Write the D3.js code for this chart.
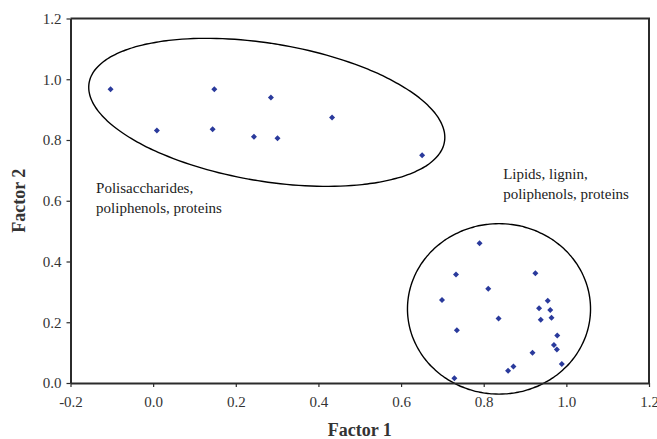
<!DOCTYPE html>
<html>
<head>
<meta charset="utf-8">
<script src="https://cdn.jsdelivr.net/npm/d3@7"></script>
<style>
  html, body { margin: 0; padding: 0; background: #fff; }
  svg { display: block; }
  svg text { font-family: "Liberation Serif", "Times New Roman", serif !important; }
</style>
</head>
<body>
<svg id="chart" width="657" height="439"></svg>
<script>
// Factor loadings: Factor 1 (x) and Factor 2 (y)
const factor1 = [
  -0.103, 0.148, 0.285, 0.433, 0.009, 0.144, 0.244, 0.301, 0.651,
  0.790, 0.733, 0.925, 0.811, 0.699, 0.955, 0.934, 0.961, 0.964, 0.938,
  0.836, 0.735, 0.978, 0.970, 0.977, 0.918, 0.989, 0.872, 0.859, 0.729
];
const factor2 = [
  0.967, 0.967, 0.940, 0.874, 0.831, 0.835, 0.811, 0.806, 0.750,
  0.460, 0.357, 0.361, 0.310, 0.273, 0.271, 0.246, 0.240, 0.215, 0.208,
  0.212, 0.174, 0.156, 0.125, 0.110, 0.100, 0.0625, 0.054, 0.040, 0.016
];

// Axis ticks
const xTicks = [-0.2, 0, 0.2, 0.4, 0.6, 0.8, 1.0, 1.2];
const yTicks = [0, 0.2, 0.4, 0.6, 0.8, 1.0, 1.2];

// Group outlines (data units): centre plus two conjugate semi-axis vectors
const groupCentres = [[0.275, 0.891], [0.837, 0.244]];
const groupAxisU = [[0.430, -0.0967], [0.2215, 0]];
const groupAxisV = [[-0.0272, -0.2237], [0, 0.2806]];
const groupLabelLines = [["Polisaccharides,", "poliphenols, proteins"], ["Lipids, lignin,", "poliphenols, proteins"]];
const groupLabelAnchor = [[-0.138, 0.625], [0.847, 0.670]];

const svg = d3.select("#chart");
const W = 657, H = 439;
const m = { left: 70.5, right: 8, top: 18.5, bottom: 56 };

const x = d3.scaleLinear().domain([-0.2, 1.2]).range([m.left, W - m.right]);
const y = d3.scaleLinear().domain([0, 1.2]).range([H - m.bottom, m.top]);

const axisColor = "#2b2b2b";
const serif = "'Liberation Serif', 'Times New Roman', serif";

// Frame: top and right edges
svg.append("path")
  .attr("d", `M${x(-0.2)},${y(1.2)}H${x(1.2)}V${y(0)}`)
  .attr("fill", "none").attr("stroke", axisColor).attr("stroke-width", 2);

// Group outlines
const t = d3.range(0, 360, 2).map(d => d * Math.PI / 180);
groupCentres.forEach((c, i) => {
  const u = groupAxisU[i], v = groupAxisV[i];
  const pts = t.map(a => [
    x(c[0] + u[0] * Math.cos(a) + v[0] * Math.sin(a)),
    y(c[1] + u[1] * Math.cos(a) + v[1] * Math.sin(a))
  ]);
  svg.append("path")
    .attr("d", d3.line().curve(d3.curveCardinalClosed)(pts))
    .attr("fill", "none").attr("stroke", "#000").attr("stroke-width", 1.4);
});

// Group labels
groupLabelLines.forEach((lines, i) => {
  const txt = svg.append("text")
    .attr("x", x(groupLabelAnchor[i][0]))
    .attr("y", y(groupLabelAnchor[i][1]))
    .style("font-family", serif)
    .attr("font-size", 15).attr("fill", "#222");
  lines.forEach((l, j) => {
    txt.append("tspan").attr("x", x(groupLabelAnchor[i][0])).attr("dy", j === 0 ? 0 : 20).text(l);
  });
});

// Axes
const fmt = d => d3.format(".1f")(d).replace("\u2212", "-");
const xAxis = d3.axisBottom(x).tickValues(xTicks).tickFormat(fmt).tickSize(4).tickSizeOuter(0).tickPadding(9);
const yAxis = d3.axisLeft(y).tickValues(yTicks).tickFormat(fmt).tickSize(4).tickSizeOuter(0).tickPadding(5);

const gx = svg.append("g").attr("transform", `translate(0,${y(0)})`).call(xAxis);
const gy = svg.append("g").attr("transform", `translate(${x(-0.2)},0)`).call(yAxis);
[gx, gy].forEach(g => {
  g.attr("font-family", null);
  g.select(".domain").attr("stroke", axisColor).attr("stroke-width", 2);
  g.selectAll(".tick line").attr("stroke", axisColor).attr("stroke-width", 1.2);
  g.selectAll(".tick text").style("font-family", serif)
    .attr("font-size", 15).attr("fill", "#333");
});

// Points
const diamond = d3.symbol().type(d3.symbolSquare).size(18);
svg.append("g").selectAll("path")
  .data(factor1.map((d, i) => [d, factor2[i]]))
  .join("path")
  .attr("d", diamond)
  .attr("transform", d => `translate(${x(d[0])},${y(d[1])}) rotate(45)`)
  .attr("fill", "#2a3a9c");

// Axis titles
svg.append("text")
  .attr("x", (x(-0.2) + x(1.2)) / 2).attr("y", 436)
  .attr("text-anchor", "middle").attr("font-weight", "bold").attr("font-size", 18).attr("fill", "#333")
  .style("font-family", serif)
  .text("Factor 1");
svg.append("text")
  .attr("transform", `translate(25,${(y(0) + y(1.2)) / 2}) rotate(-90)`)
  .attr("text-anchor", "middle").attr("font-weight", "bold").attr("font-size", 18).attr("fill", "#333")
  .style("font-family", serif)
  .text("Factor 2");
</script>
</body>
</html>
